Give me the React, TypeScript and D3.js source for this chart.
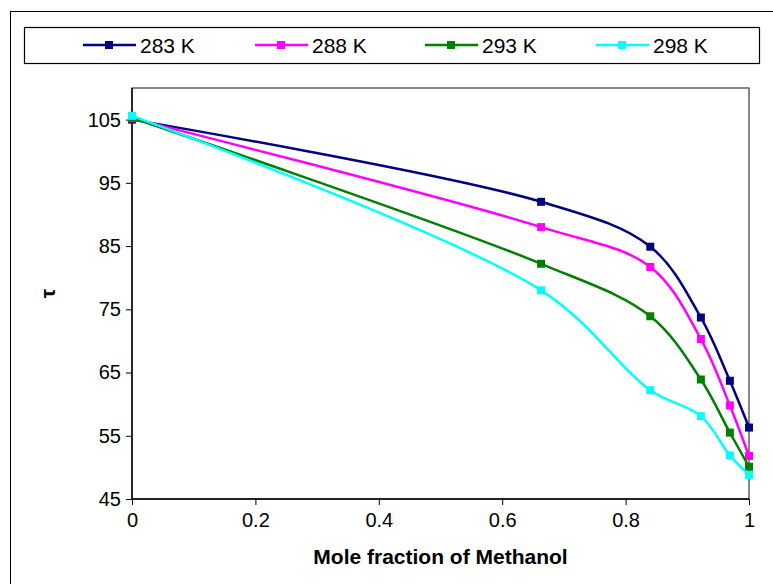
import React, { useEffect, useRef } from "react";
import * as d3 from "d3";

const xValues = [0, 0.663, 0.84, 0.922, 0.969, 1.0];
const seriesNames = ["283 K", "288 K", "293 K", "298 K"];
const seriesColors = ["#000080", "#FF00FF", "#008000", "#00FFFF"];
const s283 = [105.0, 92.0, 84.9, 73.7, 63.7, 56.3];
const s288 = [105.2, 88.0, 81.7, 70.3, 59.8, 51.8];
const s293 = [105.3, 82.2, 73.9, 63.9, 55.5, 50.1];
const s298 = [105.6, 78.0, 62.2, 58.1, 51.9, 48.8];
const seriesValues = [s283, s288, s293, s298];
const yTicks = [45, 55, 65, 75, 85, 95, 105];
const xTicks = [0, 0.2, 0.4, 0.6, 0.8, 1];
const xTitle = "Mole fraction of Methanol";
const yTitle = "τ";

const W = 773;
const H = 584;
const plot = { left: 132, right: 749, top: 88, bottom: 499 };
const FONT = "'Liberation Sans', Arial, sans-serif";

export default function App() {
  const xAxisRef = useRef<SVGGElement>(null);
  const yAxisRef = useRef<SVGGElement>(null);

  const x = d3.scaleLinear().domain([0, 1]).range([plot.left, plot.right]);
  const y = d3.scaleLinear().domain([45, 110]).range([plot.bottom, plot.top]);

  useEffect(() => {
    const xa = d3
      .axisBottom(x)
      .tickValues(xTicks)
      .tickSize(6)
      .tickPadding(8)
      .tickFormat((d) => d3.format("")(+d));
    const ya = d3.axisLeft(y).tickValues(yTicks).tickSize(6).tickPadding(5);
    const gx = d3.select(xAxisRef.current!);
    gx.call(xa as any);
    gx.select(".domain").remove();
    gx.selectAll("line").attr("stroke", "#000");
    gx.selectAll("text")
      .attr("font-family", FONT)
      .attr("font-size", 20)
      .attr("fill", "#000");
    const gy = d3.select(yAxisRef.current!);
    gy.call(ya as any);
    gy.select(".domain").remove();
    gy.selectAll("line").attr("stroke", "#000");
    gy.selectAll("text")
      .attr("font-family", FONT)
      .attr("font-size", 20)
      .attr("fill", "#000");
  }, []);

  const line = d3
    .line<number>()
    .x((_, i) => x(xValues[i]))
    .y((d) => y(d))
    .curve(d3.curveCatmullRom.alpha(0.5));

  const legendX = [109, 281, 451, 622];
  const ms = 8;

  return (
    <svg
      width={W}
      height={H}
      style={{ position: "absolute", left: 0, top: 0, background: "#fff" }}
    >
      <rect x={0} y={0} width={W} height={H} fill="#fff" />
      <rect x={10.5} y={11.5} width={800} height={700} fill="none" stroke="#000" strokeWidth={1} />
      {/* legend */}
      <rect x={24.5} y={27.5} width={735} height={36} fill="#fff" stroke="#000" strokeWidth={1.2} />
      {seriesNames.map((n, i) => (
        <g key={n}>
          <line
            x1={legendX[i] - 26}
            x2={legendX[i] + 27}
            y1={45}
            y2={45}
            stroke={seriesColors[i]}
            strokeWidth={2.5}
          />
          <rect
            x={legendX[i] - ms / 2}
            y={45 - ms / 2}
            width={ms}
            height={ms}
            fill={seriesColors[i]}
          />
          <text
            x={legendX[i] + 31}
            y={45}
            dy="0.36em"
            fontFamily={FONT}
            fontSize={21}
            fill="#000"
          >
            {n}
          </text>
        </g>
      ))}
      {/* plot frame */}
      <rect
        x={plot.left}
        y={plot.top}
        width={plot.right - plot.left}
        height={plot.bottom - plot.top}
        fill="none"
        stroke="#555"
        strokeWidth={1.4}
      />
      <line x1={plot.left} x2={plot.left} y1={plot.top} y2={plot.bottom} stroke="#000" strokeWidth={1.4} />
      <line x1={plot.left} x2={plot.right} y1={plot.bottom} y2={plot.bottom} stroke="#000" strokeWidth={1.4} />
      <g ref={xAxisRef} transform={`translate(0,${plot.bottom})`} />
      <g ref={yAxisRef} transform={`translate(${plot.left},0)`} />
      {/* series */}
      {seriesValues.map((vals, i) => (
        <g key={seriesNames[i]}>
          <path d={line(vals) || ""} fill="none" stroke={seriesColors[i]} strokeWidth={2.5} />
          {vals.map((v, j) => (
            <rect
              key={j}
              x={x(xValues[j]) - ms / 2}
              y={y(v) - ms / 2}
              width={ms}
              height={ms}
              fill={seriesColors[i]}
            />
          ))}
        </g>
      ))}
      {/* titles */}
      <text
        x={(plot.left + plot.right) / 2}
        y={556}
        dy="0.36em"
        textAnchor="middle"
        fontFamily={FONT}
        fontSize={21}
        fontWeight="bold"
        fill="#000"
      >
        {xTitle}
      </text>
      <text
        transform={`translate(47,${(plot.top + plot.bottom) / 2}) rotate(-90)`}
        textAnchor="middle"
        dy="0.36em"
        fontFamily={FONT}
        fontSize={21}
        fontWeight="bold"
        fill="#000"
      >
        {yTitle}
      </text>
    </svg>
  );
}
